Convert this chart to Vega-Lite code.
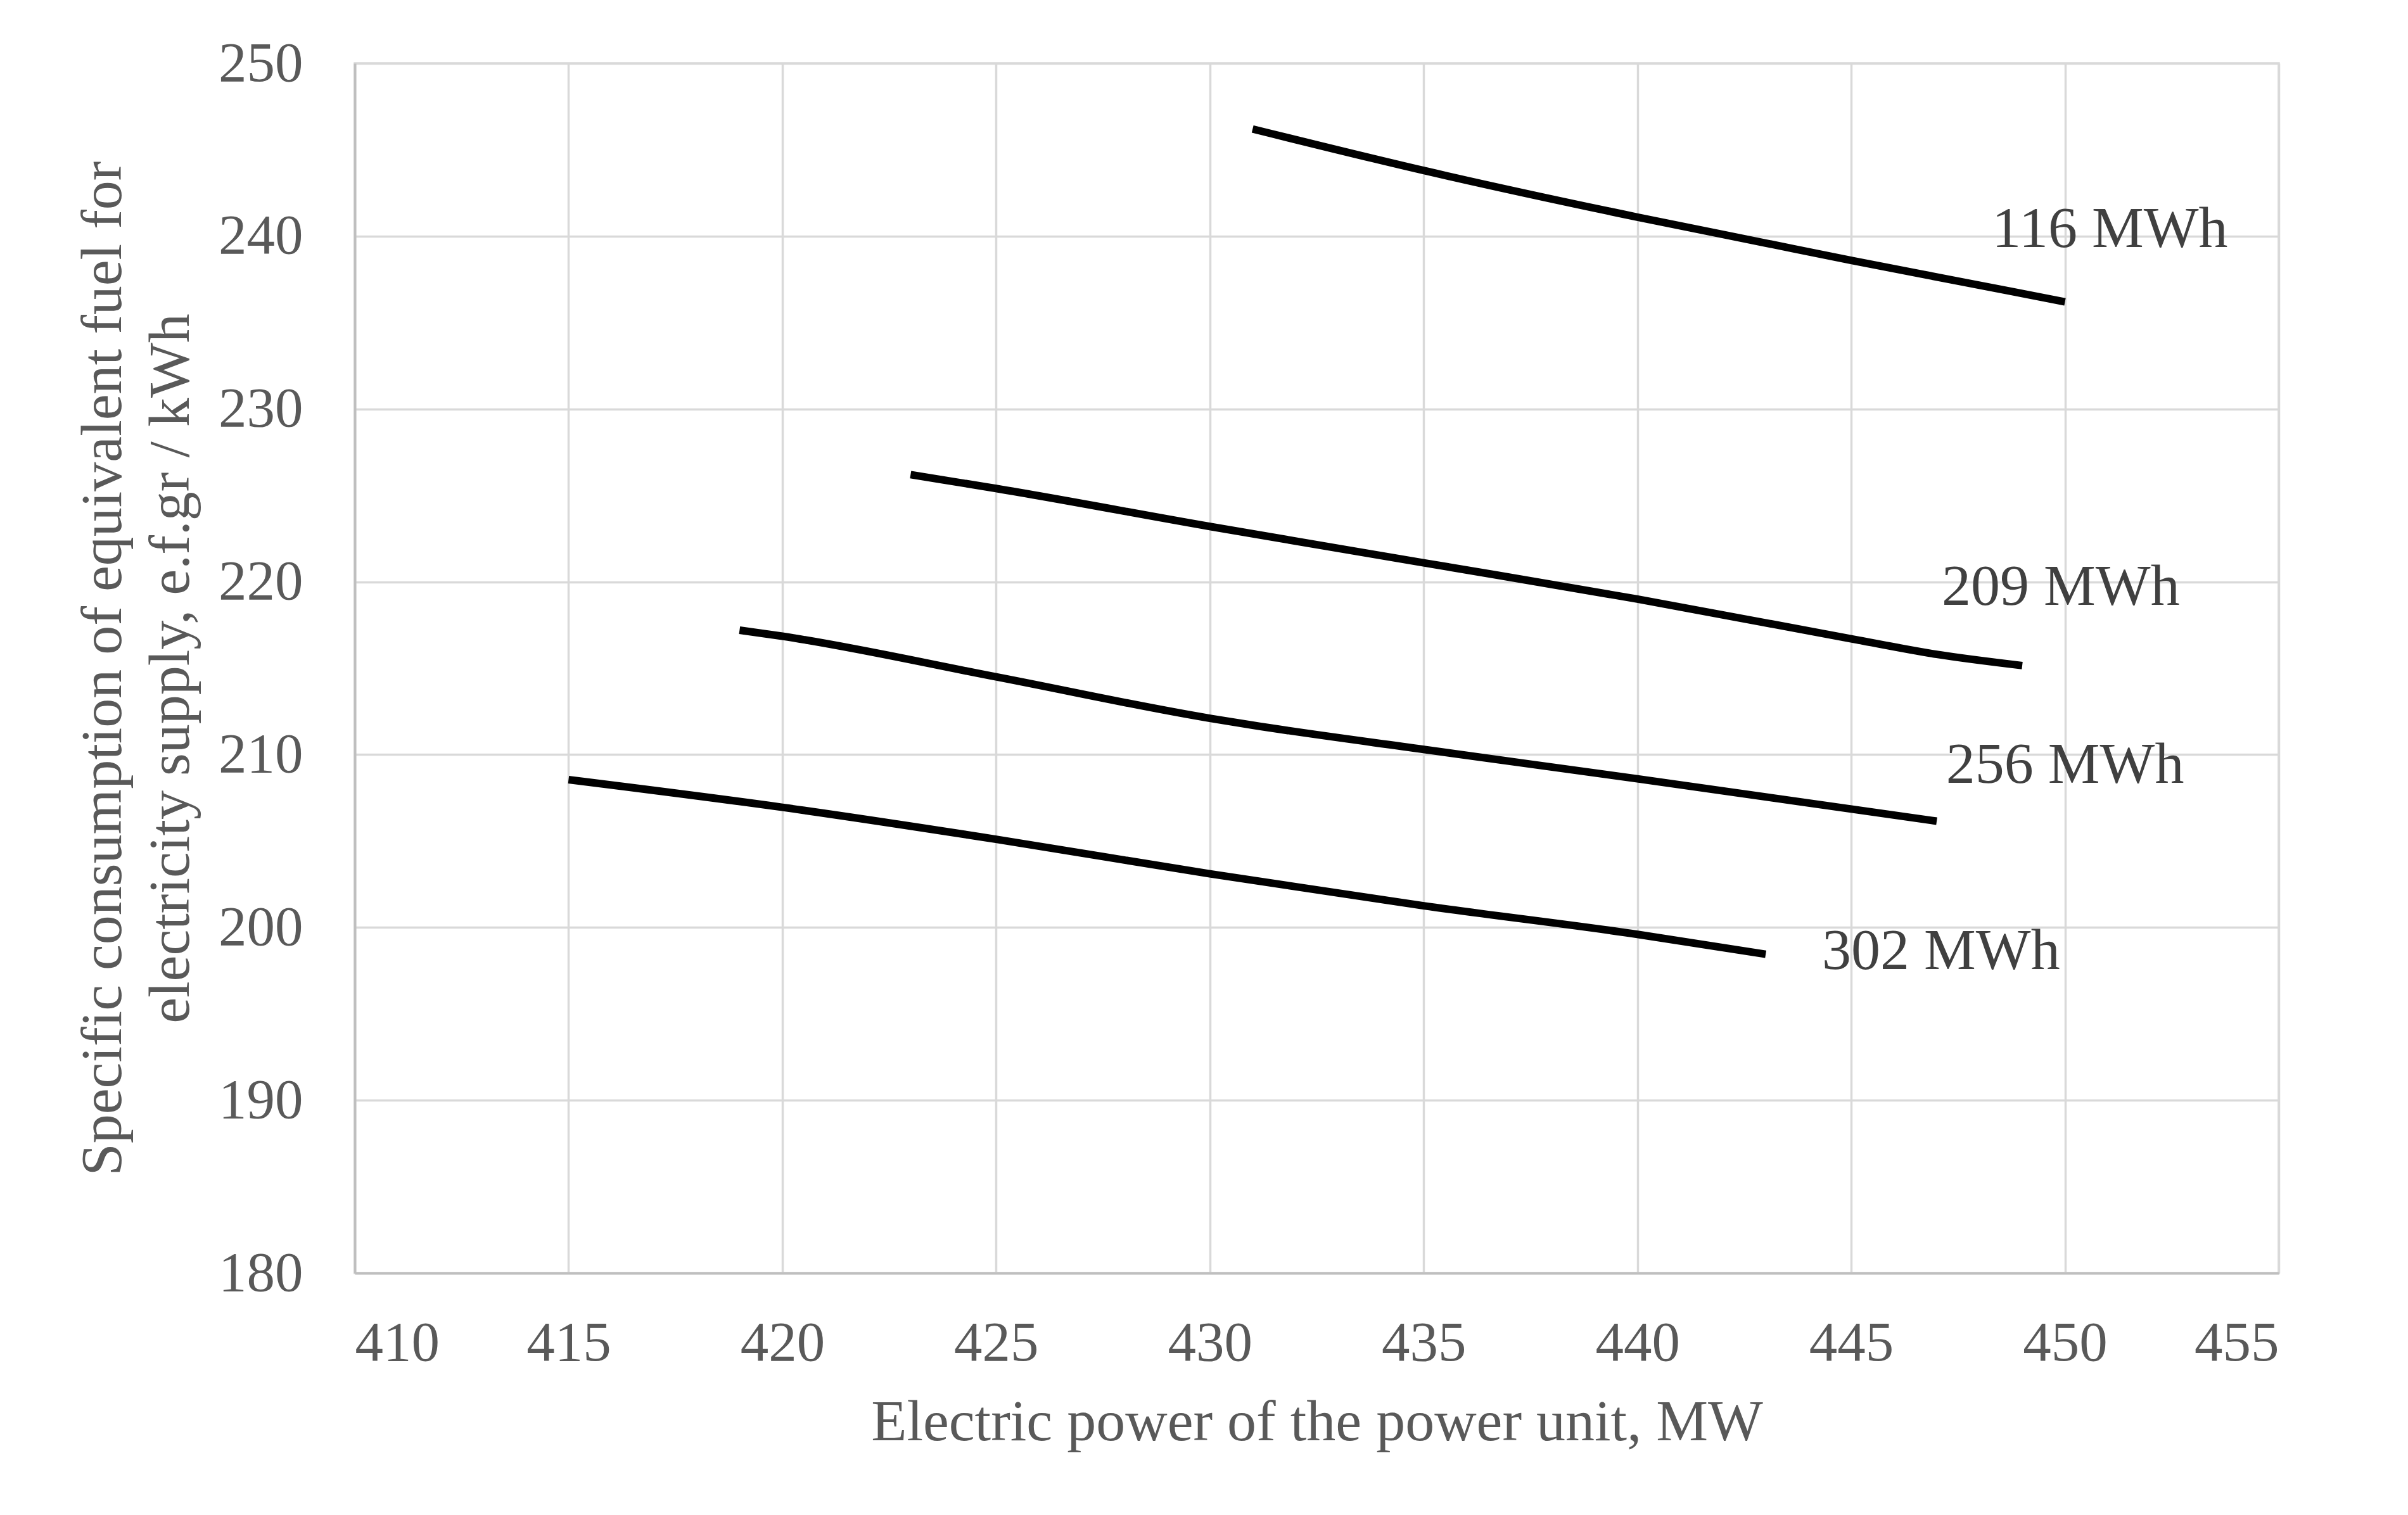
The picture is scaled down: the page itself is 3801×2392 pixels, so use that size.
{
  "$schema": "https://vega.github.io/schema/vega-lite/v6.json",
  "width": 3037,
  "height": 1910,
  "autosize": "none",
  "padding": {"left": 560, "top": 100, "right": 204, "bottom": 382},
  "background": "white",
  "config": {
    "font": "Liberation Serif",
    "view": {"stroke": "#d9d9d9", "strokeWidth": 3.5},
    "axis": {
      "grid": true,
      "gridColor": "#d9d9d9",
      "gridWidth": 3.5,
      "domainColor": "#bfbfbf",
      "domainWidth": 4,
      "ticks": false,
      "tickSize": 0,
      "labelLimit": 0,
      "labelFont": "Liberation Serif",
      "labelFontSize": 89,
      "labelColor": "#595959",
      "titleFont": "Liberation Serif",
      "titleFontSize": 92,
      "titleFontWeight": "normal",
      "titleColor": "#595959",
      "titleLimit": 0
    }
  },
  "datasets": {
    "curves": [
      {"series": "116 MWh", "power": 431, "consumption": 246.2},
      {"series": "116 MWh", "power": 435, "consumption": 243.8},
      {"series": "116 MWh", "power": 440, "consumption": 241.1},
      {"series": "116 MWh", "power": 443, "consumption": 239.6},
      {"series": "116 MWh", "power": 445, "consumption": 238.6},
      {"series": "116 MWh", "power": 447.5, "consumption": 237.4},
      {"series": "116 MWh", "power": 450, "consumption": 236.2},
      {"series": "209 MWh", "power": 423, "consumption": 226.2},
      {"series": "209 MWh", "power": 425, "consumption": 225.4},
      {"series": "209 MWh", "power": 430, "consumption": 223.2},
      {"series": "209 MWh", "power": 435, "consumption": 221.1},
      {"series": "209 MWh", "power": 440, "consumption": 219.0},
      {"series": "209 MWh", "power": 445, "consumption": 216.7},
      {"series": "209 MWh", "power": 447, "consumption": 215.8},
      {"series": "209 MWh", "power": 449, "consumption": 215.15},
      {"series": "256 MWh", "power": 419, "consumption": 217.2},
      {"series": "256 MWh", "power": 420, "consumption": 216.85},
      {"series": "256 MWh", "power": 425, "consumption": 214.5},
      {"series": "256 MWh", "power": 430, "consumption": 212.1},
      {"series": "256 MWh", "power": 431, "consumption": 211.7},
      {"series": "256 MWh", "power": 435, "consumption": 210.3},
      {"series": "256 MWh", "power": 440, "consumption": 208.6},
      {"series": "256 MWh", "power": 445, "consumption": 206.85},
      {"series": "256 MWh", "power": 447, "consumption": 206.15},
      {"series": "302 MWh", "power": 415, "consumption": 208.55},
      {"series": "302 MWh", "power": 420, "consumption": 206.95},
      {"series": "302 MWh", "power": 425, "consumption": 205.1},
      {"series": "302 MWh", "power": 430, "consumption": 203.1},
      {"series": "302 MWh", "power": 435, "consumption": 201.25},
      {"series": "302 MWh", "power": 440, "consumption": 199.6},
      {"series": "302 MWh", "power": 443, "consumption": 198.45}
    ],
    "labels": [
      {"label": "116 MWh", "power": 451.05, "consumption": 240.4},
      {"label": "209 MWh", "power": 449.9, "consumption": 219.7},
      {"label": "256 MWh", "power": 450.0, "consumption": 209.4},
      {"label": "302 MWh", "power": 447.1, "consumption": 198.6}
    ]
  },
  "layer": [
    {
      "data": {"name": "curves"},
      "mark": {"type": "line", "interpolate": "monotone", "color": "black", "strokeWidth": 12, "strokeCap": "butt"},
      "encoding": {
        "x": {
          "field": "power", "type": "quantitative",
          "scale": {"domain": [410, 455], "nice": false, "zero": false},
          "axis": {
            "values": [410, 415, 420, 425, 430, 435, 440, 445, 450, 455],
            "format": "d",
            "labelPadding": 67,
            "titlePadding": 35,
            "title": "Electric power of the power unit, MW"
          }
        },
        "y": {
          "field": "consumption", "type": "quantitative",
          "scale": {"domain": [180, 250], "nice": false, "zero": false},
          "axis": {
            "values": [180, 190, 200, 210, 220, 230, 240, 250],
            "format": "d",
            "labelPadding": 82,
            "titlePadding": 44,
            "titleLineHeight": 107,
            "title": ["Specific consumption of equivalent fuel for", "electricity supply, e.f.gr / kWh"]
          }
        },
        "detail": {"field": "series", "type": "nominal"}
      }
    },
    {
      "data": {"name": "labels"},
      "mark": {"type": "text", "font": "Liberation Serif", "fontSize": 92, "color": "#404040", "align": "center", "baseline": "middle"},
      "encoding": {
        "x": {"field": "power", "type": "quantitative"},
        "y": {"field": "consumption", "type": "quantitative"},
        "text": {"field": "label", "type": "nominal"}
      }
    }
  ]
}
